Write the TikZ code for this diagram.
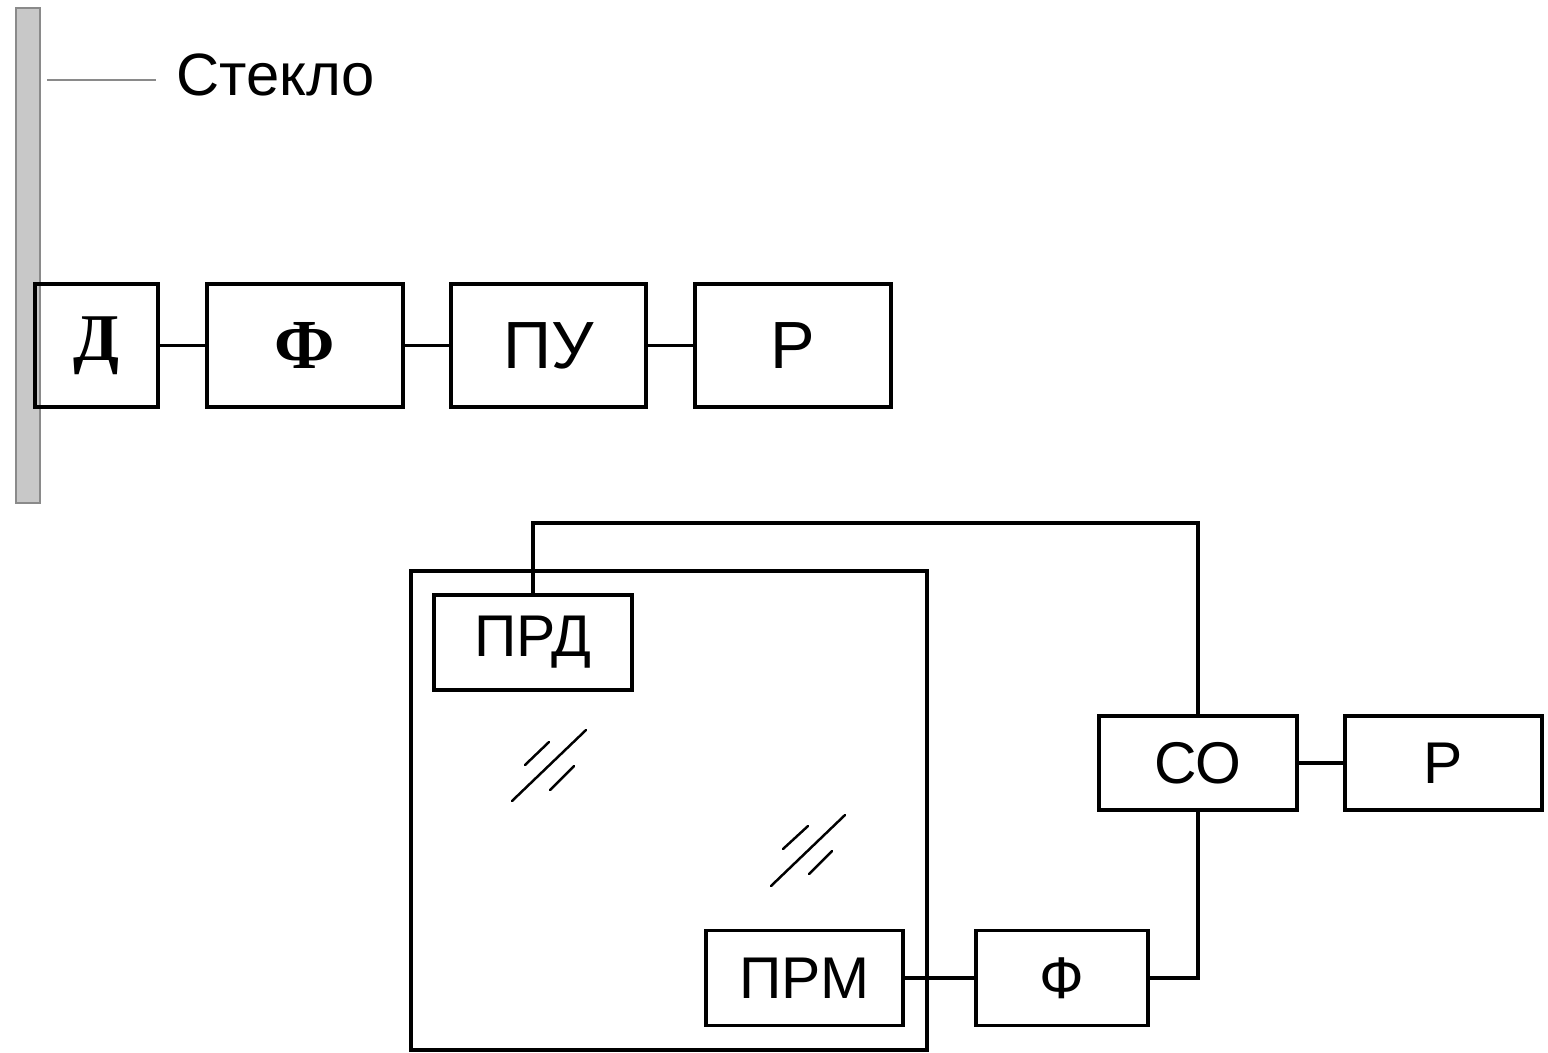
\documentclass[tikz,border=0pt]{standalone}
\usepackage{fontspec}
\setmainfont{Liberation Sans}
\newfontfamily\serifcyr{Liberation Serif}
\usetikzlibrary{positioning}
\definecolor{glassfill}{HTML}{C8C8C8}
\definecolor{glassdraw}{HTML}{8A8A8A}
\tikzset{
  unitbox/.style={
    draw=black,
    line width=1.9pt,
    inner sep=0pt,
    outer sep=0pt,
    minimum width=3.92cm,
    minimum height=2.46cm,
    align=center,
    font=\fontsize{38}{40}\selectfont
  },
  smallbox/.style={
    unitbox,
    minimum width=3.96cm,
    minimum height=1.9cm,
    font=\fontsize{33.5}{35}\selectfont
  },
  wire/.style={
    line width=1.9pt,
    draw=black
  },
  hatch/.style={
    line width=1.4pt,
    line cap=round
  }
}
\begin{document}
\begin{tikzpicture}[x=0.02cm, y=-0.02cm]
\useasboundingbox (0,0) rectangle (1548,1052);
% glass
\draw[fill=glassfill, draw=glassdraw, line width=1pt] (16,8) rectangle (40,503);
\node[anchor=west, inner sep=0pt, font=\fontsize{34}{36}\selectfont] (glass) at (176,75) {Стекло};
\coordinate (leadA) at (47,80);
\coordinate (leadB) at (156,80);
\draw[glassdraw, line width=1.1pt] (leadA) -- (leadB);
% upper chain
\node[unitbox, minimum width=2.46cm, font=\fontsize{38}{40}\serifcyr\bfseries] (d) at (96.5,345.5) {Д};
\node[unitbox, font=\fontsize{40}{42}\serifcyr\bfseries, right=0.98cm of d] (ft) {Ф};
\node[unitbox, minimum width=3.9cm, right=0.96cm of ft] (pu) {ПУ};
\node[unitbox, right=0.98cm of pu] (rt) {Р};
\draw[wire] (d) -- (ft);
\draw[wire] (ft) -- (pu);
\draw[wire] (pu) -- (rt);
% window
\draw[wire] (411,571) rectangle (927,1050);
\draw[hatch] (512,801) -- (586,730);
\draw[hatch] (525,765) -- (549,742);
\draw[hatch] (550,790) -- (574,766);
\draw[hatch] (771,886) -- (845,815);
\draw[hatch] (783,849) -- (808,826);
\draw[hatch] (809,874) -- (832,851);
% lower chain
\node[smallbox] (prd) at (533,642.5) {ПРД};
\node[smallbox, minimum height=1.88cm] (so) at (1198,763) {СО};
\node[smallbox, minimum width=3.94cm, minimum height=1.88cm, right=0.96cm of so] (rb) {Р};
\node[smallbox, minimum width=3.44cm] (fb) at (1062,978) {Ф};
\node[smallbox, minimum width=3.94cm, left=1.46cm of fb] (prm) {ПРМ};
\coordinate (loop) at (1198,523);
\draw[wire] (prd.north) |- (loop) -- (so.north);
\draw[wire] (so) -- (rb);
\draw[wire] (so.south) |- (fb.east);
\draw[wire] (prm) -- (fb);
\end{tikzpicture}
\end{document}
